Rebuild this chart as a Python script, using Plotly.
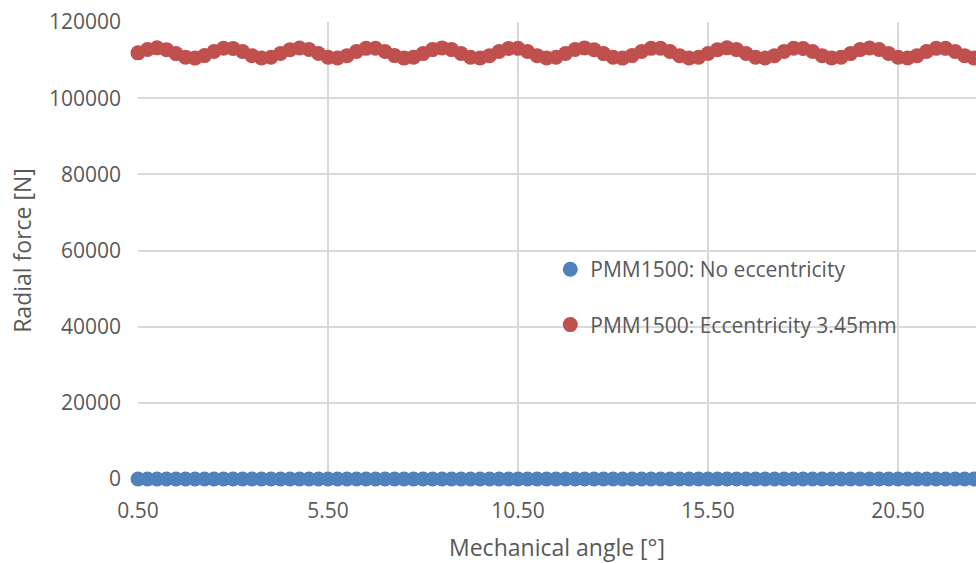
import numpy as np
import plotly.graph_objects as go

# Mechanical angle in degrees, 0.25° steps starting at 0.50°
angle_start = 0.5
angle_step = 0.25
n_points = 90
angles = np.round(angle_start + angle_step * np.arange(n_points), 2)

# Radial force [N] without eccentricity (all zero)
force_no_ecc = [0] * n_points

# Radial force [N] with 3.45 mm eccentricity
force_ecc = [
    111900, 112760, 113210, 112740, 111700, 110770, 110520, 111180, 112260, 113090,
    113070, 112280, 111160, 110540, 110750, 111720, 112740, 113190, 112760, 111710,
    110750, 110540, 111170, 112280, 113080, 113090, 112260, 111180, 110520, 110770,
    111700, 112750, 113200, 112750, 111720, 110760, 110530, 111160, 112270, 113070,
    113080, 112270, 111170, 110530, 110760, 111710, 112760, 113200, 112740, 111700,
    110770, 110520, 111180, 112260, 113080, 113090, 112270, 111160, 110540, 110750,
    111720, 112740, 113210, 112750, 111710, 110760, 110530, 111170, 112280, 113090,
    113070, 112260, 111170, 110530, 110770, 111700, 112750, 113190, 112760, 111720,
    110750, 110540, 111160, 112270, 113080, 113080, 112280, 111170, 110520, 110760,
]

x_tick_vals = [0.5, 5.5, 10.5, 15.5, 20.5]
x_tick_text = ["0.50", "5.50", "10.50", "15.50", "20.50"]
y_tick_vals = [0, 20000, 40000, 60000, 80000, 100000, 120000]

series_names = ["PMM1500: No eccentricity", "PMM1500: Eccentricity 3.45mm"]
series_colors = ["#4F81BD", "#C0504D"]

FONT = "Open Sans"
TEXT_COLOR = "#595959"
GRID = "#D9D9D9"

fig = go.Figure()
for name, vals, color in zip(series_names, [force_no_ecc, force_ecc], series_colors):
    fig.add_trace(go.Scatter(
        x=angles, y=vals, name=name, mode="markers",
        marker=dict(size=15, color=color),
        legendgroup=name, cliponaxis=False,
    ))

fig.update_layout(
    width=976, height=563,
    margin=dict(l=138, r=0, t=22, b=84),
    paper_bgcolor="white", plot_bgcolor="white",
    font=dict(family=FONT, size=21, color=TEXT_COLOR),
    showlegend=True,
    legend=dict(
        x=0.492, y=0.503, xanchor="left", yanchor="top",
        bgcolor="rgba(0,0,0,0)", borderwidth=0,
        tracegroupgap=25, itemwidth=30,
        font=dict(family=FONT, size=21, color=TEXT_COLOR),
    ),
    xaxis=dict(
        range=[0.5, 22.55],
        tickvals=x_tick_vals, ticktext=x_tick_text,
        showgrid=True, gridcolor=GRID, gridwidth=2,
        zeroline=False, showline=False,
        ticks="", ticklabelstandoff=17,
        title=dict(text="Mechanical angle [°]", standoff=20,
                   font=dict(family=FONT, size=23, color=TEXT_COLOR)),
    ),
    yaxis=dict(
        range=[0, 120000],
        tickvals=y_tick_vals, tickformat="d",
        showgrid=True, gridcolor=GRID, gridwidth=2,
        zeroline=False, showline=False,
        ticks="", ticklabelstandoff=16,
        title=dict(text="Radial force [N]", standoff=10,
                   font=dict(family=FONT, size=23, color=TEXT_COLOR)),
    ),
)

fig.write_html("out.html")
